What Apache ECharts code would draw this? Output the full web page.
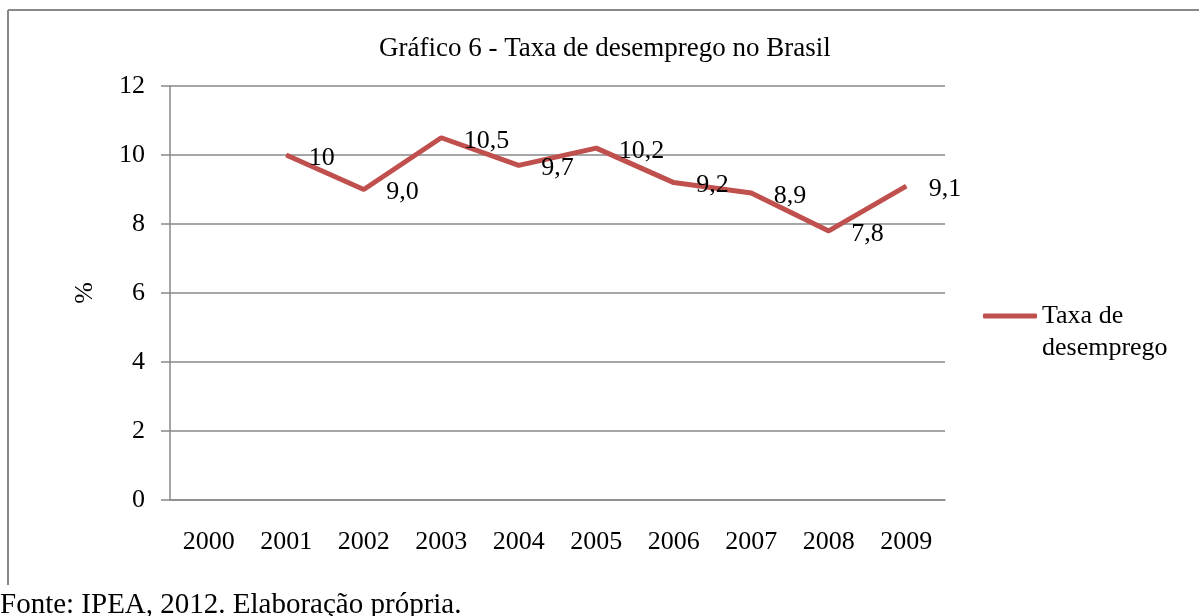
<!DOCTYPE html>
<html>
<head>
<meta charset="utf-8">
<title>Taxa de desemprego no Brasil</title>
<script src="https://cdn.jsdelivr.net/npm/echarts@6/dist/echarts.min.js"></script>
<style>
  html, body { margin: 0; padding: 0; background: #fff; }
  #chart { width: 1199px; height: 616px; }
</style>
</head>
<body>
<div id="chart"></div>
<script>
  // data
  var anos = ['2000', '2001', '2002', '2003', '2004', '2005', '2006', '2007', '2008', '2009'];
  var taxa = [null, 10, 9.0, 10.5, 9.7, 10.2, 9.2, 8.9, 7.8, 9.1];
  var rotulos = ['', '10', '9,0', '10,5', '9,7', '10,2', '9,2', '8,9', '7,8', '9,1'];
  var serieNome = 'Taxa de desemprego';

  var fonte = "'Liberation Serif', 'Times New Roman', serif";
  var cinza = '#898989';

  var chartDom = document.getElementById('chart');
  var myChart = echarts.init(chartDom);

  var option = {
    animation: false,
    textStyle: { fontFamily: fonte, color: '#000' },
    title: {
      text: 'Gráfico 6 - Taxa de desemprego no Brasil',
      left: 379,
      top: 35,
      padding: 0,
      textStyle: { fontFamily: fonte, fontSize: 27, fontWeight: 'normal', color: '#000' }
    },
    legend: {
      data: [{ name: serieNome, icon: 'roundRect' }],
      left: 983,
      top: 268,
      padding: 0,
      itemWidth: 54,
      itemHeight: 5,
      // empty first line so the icon sits beside "Taxa de"
      formatter: function () { return '\nTaxa de\ndesemprego'; },
      textStyle: { fontFamily: fonte, fontSize: 26, color: '#000', lineHeight: 32 }
    },
    grid: { left: 170, right: 254, top: 86, bottom: 116 },
    xAxis: {
      type: 'category',
      data: anos,
      boundaryGap: true,
      axisLine: { lineStyle: { color: cinza, width: 1.5 } },
      axisTick: { show: false },
      axisLabel: { fontFamily: fonte, fontSize: 26, color: '#000', margin: 29 }
    },
    yAxis: {
      type: 'value',
      min: 0,
      max: 12,
      interval: 2,
      name: '%',
      nameLocation: 'middle',
      nameRotate: 90,
      nameGap: 72,
      nameTextStyle: { fontFamily: fonte, fontSize: 26, color: '#000' },
      axisLine: { show: true, lineStyle: { color: cinza, width: 1.5 } },
      axisTick: { show: true, length: 9, lineStyle: { color: cinza, width: 1.5 } },
      axisLabel: { fontFamily: fonte, fontSize: 26, color: '#000', margin: 25 },
      splitLine: { lineStyle: { color: cinza, width: 1.5 } }
    },
    series: [{
      name: serieNome,
      type: 'line',
      data: taxa,
      symbol: 'circle',
      symbolSize: 1,
      showSymbol: true,
      color: '#c0504d',
      itemStyle: { color: '#c0504d' },
      lineStyle: { color: '#c0504d', width: 5 },
      label: {
        show: true,
        position: 'right',
        distance: 20,
        offset: [2, 3],
        fontFamily: fonte,
        fontSize: 26,
        color: '#000',
        formatter: function (p) { return rotulos[p.dataIndex]; }
      }
    }],
    graphic: [
      { type: 'line', shape: { x1: 8, y1: 10, x2: 1199, y2: 10 }, style: { stroke: cinza, lineWidth: 2 } },
      { type: 'line', shape: { x1: 8, y1: 10, x2: 8, y2: 585 }, style: { stroke: cinza, lineWidth: 2 } },
      {
        type: 'text', left: 0, top: 591,
        style: { text: 'Fonte: IPEA, 2012. Elaboração própria.', font: '29px ' + fonte, fill: '#000' }
      }
    ]
  };

  option && myChart.setOption(option);
</script>
</body>
</html>
